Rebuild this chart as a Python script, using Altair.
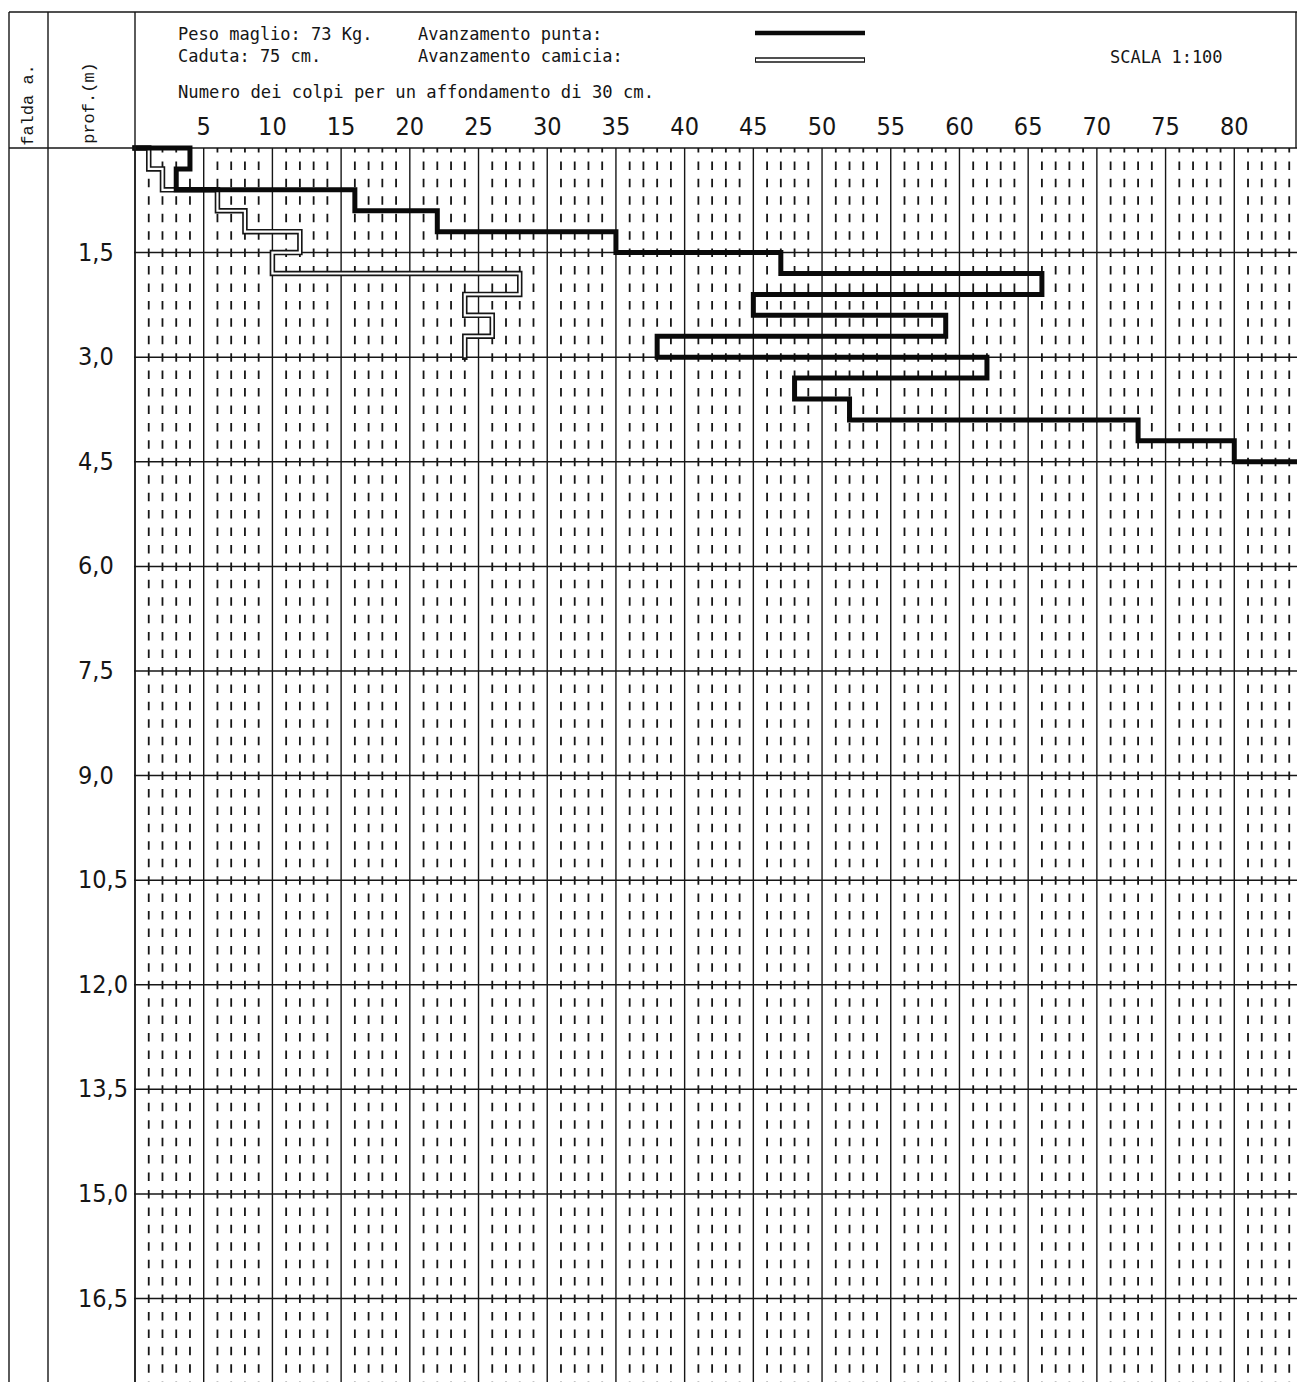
import altair as alt
import pandas as pd

# ---------------- data ----------------
STEP = 0.3  # m, each reading covers 30 cm
punta_depth_top = [0.0, 0.3, 0.6, 0.9, 1.2, 1.5, 1.8, 2.1, 2.4, 2.7, 3.0, 3.3, 3.6, 3.9, 4.2]
punta_blows = [4, 3, 16, 22, 35, 47, 66, 45, 59, 38, 62, 48, 52, 73, 80]
camicia_depth_top = [0.0, 0.3, 0.6, 0.9, 1.2, 1.5, 1.8, 2.1, 2.4, 2.7]
camicia_blows = [1, 2, 6, 8, 12, 10, 28, 24, 26, 24]

x_tick_labels = [5, 10, 15, 20, 25, 30, 35, 40, 45, 50, 55, 60, 65, 70, 75, 80]
depth_labels = [1.5, 3.0, 4.5, 6.0, 7.5, 9.0, 10.5, 12.0, 13.5, 15.0, 16.5]
major_x = [0, 5, 10, 15, 20, 25, 30, 35, 40, 45, 50, 55, 60, 65, 70, 75, 80, 85]
major_depth = [0.0, 1.5, 3.0, 4.5, 6.0, 7.5, 9.0, 10.5, 12.0, 13.5, 15.0, 16.5]
minor_x = [i for i in range(1, 86) if i % 5 != 0]

header_texts = [
    "Peso maglio: 73 Kg.",
    "Caduta: 75 cm.",
    "Avanzamento punta:",
    "Avanzamento camicia:",
    "SCALA 1:100",
    "Numero dei colpi per un affondamento di 30 cm.",
]
column_titles = ["falda a.", "prof.(m)"]

# ---------------- geometry ----------------
PX_PER_BLOW = 13.741
PX_PER_M = 69.73
PLOT_W = 1162
PLOT_H = 1234
XMAX = PLOT_W / PX_PER_BLOW
YMAX = PLOT_H / PX_PER_M

INK = "#161616"
MONO = "DejaVu Sans Mono"
NARROW = "Liberation Sans Narrow, DejaVu Sans Condensed, Arial Narrow, sans-serif"


def step_path(tops, vals, step, end_x=None):
    pts = [(0.0, tops[0])]
    for t, v in zip(tops, vals):
        pts.append((v, round(t, 3)))
        pts.append((v, round(t + step, 3)))
    if end_x is not None:
        pts.append((end_x, round(tops[-1] + step, 3)))
    return pd.DataFrame({"i": range(len(pts)), "x": [p[0] for p in pts], "d": [p[1] for p in pts]})


punta_df = step_path(punta_depth_top, punta_blows, STEP, end_x=XMAX)
camicia_df = step_path(camicia_depth_top, camicia_blows, STEP)

xs = alt.Scale(domain=[0, XMAX], nice=False, zero=False)
ys = alt.Scale(domain=[0, YMAX], nice=False, zero=False, reverse=True)

one = pd.DataFrame({"k": [0]})

# minor dashed verticals
dash_period = 0.25 * PX_PER_M
minor = alt.Chart(pd.DataFrame({"x": minor_x})).mark_rule(
    color=INK, strokeWidth=1.8, strokeDash=[8.5, dash_period - 8.5], strokeDashOffset=4
).encode(x=alt.X("x:Q", scale=xs, axis=None), y=alt.value(0), y2=alt.value(PLOT_H))

major_v = alt.Chart(pd.DataFrame({"x": major_x})).mark_rule(
    color=INK, strokeWidth=1.4
).encode(x=alt.X("x:Q", scale=xs, axis=None), y=alt.value(0), y2=alt.value(PLOT_H))

major_h = alt.Chart(pd.DataFrame({"d": major_depth})).mark_rule(
    color=INK, strokeWidth=1.5
).encode(y=alt.Y("d:Q", scale=ys, axis=None), x=alt.value(-1), x2=alt.value(PLOT_W))

cam_outer = alt.Chart(camicia_df).mark_line(
    color=INK, strokeWidth=5.5, strokeJoin="miter", strokeCap="square"
).encode(x=alt.X("x:Q", scale=xs, axis=None), y=alt.Y("d:Q", scale=ys, axis=None), order="i:Q")
cam_inner = alt.Chart(camicia_df).mark_line(
    color="white", strokeWidth=2.2, strokeJoin="miter", strokeCap="butt"
).encode(x=alt.X("x:Q", scale=xs, axis=None), y=alt.Y("d:Q", scale=ys, axis=None), order="i:Q")

punta = alt.Chart(punta_df).mark_line(
    color="#0a0a0a", strokeWidth=5, strokeJoin="miter", strokeCap="square"
).encode(x=alt.X("x:Q", scale=xs, axis=None), y=alt.Y("d:Q", scale=ys, axis=None), order="i:Q")

# tick labels (blow counts along the top, depths down the left), placed through the scales
x_lab = alt.Chart(pd.DataFrame({"x": x_tick_labels, "t": [str(v) for v in x_tick_labels]})).mark_text(
    font=NARROW, fontSize=25, align="center", baseline="alphabetic", color=INK
).encode(x=alt.X("x:Q", scale=xs, axis=None), y=alt.value(-13), text="t:N")

y_lab = alt.Chart(pd.DataFrame({"d": depth_labels,
                                "t": [f"{v:.1f}".replace(".", ",") for v in depth_labels]})).mark_text(
    font=NARROW, fontSize=25, align="left", baseline="middle", color=INK
).encode(y=alt.Y("d:Q", scale=ys, axis=None), x=alt.value(-57), text="t:N")


def rule(x1, x2, y1, y2, w=1.4, color=INK):
    return alt.Chart(one).mark_rule(color=color, strokeWidth=w).encode(
        x=alt.value(x1), x2=alt.value(x2), y=alt.value(y1), y2=alt.value(y2)
    )


def label(txt, px, py, size, font=MONO, angle=0, align="left"):
    return alt.Chart(one).mark_text(
        text=txt, font=font, fontSize=size, angle=angle, align=align,
        baseline="middle", color=INK
    ).encode(x=alt.value(px), y=alt.value(py))


frame = [
    rule(-126, PLOT_W, -136, -136),          # top border
    rule(-126, -126, -136, PLOT_H),          # outer left
    rule(-87, -87, -136, PLOT_H),            # between columns
    rule(0, 0, -136, PLOT_H),                # plot left
    rule(-126, 0, 0, 0),                     # header bottom (left columns)
    rule(PLOT_W - 1, PLOT_W - 1, -136, 0),   # header right border
]

legend = [
    rule(620, 730, -115, -115, w=4.5, color="#0a0a0a"),
    rule(620, 730, -88, -88, w=5.5),
    rule(621, 729, -88, -88, w=2.4, color="white"),
]

texts = [
    label(header_texts[0], 43, -113, 17),
    label(header_texts[1], 43, -91, 17),
    label(header_texts[2], 283, -113, 17),
    label(header_texts[3], 283, -91, 17),
    label(header_texts[4], 975, -90, 17),
    label(header_texts[5], 43, -55, 17.2),
    label(column_titles[0], -107, -43, 17, font="Liberation Mono", angle=270, align="center"),
    label(column_titles[1], -46, -45, 17, font="Liberation Mono", angle=270, align="center"),
]

chart = alt.layer(
    minor, major_v, major_h, cam_outer, cam_inner, punta, x_lab, y_lab, *frame, *legend, *texts
).properties(
    width=PLOT_W,
    height=PLOT_H,
    padding={"left": 127, "top": 140, "right": 0, "bottom": 0},
    autosize=alt.AutoSizeParams(type="none"),
    background="white",
).configure_view(stroke=None)

chart.save("out.html", embed_options={"renderer": "svg", "actions": False})
